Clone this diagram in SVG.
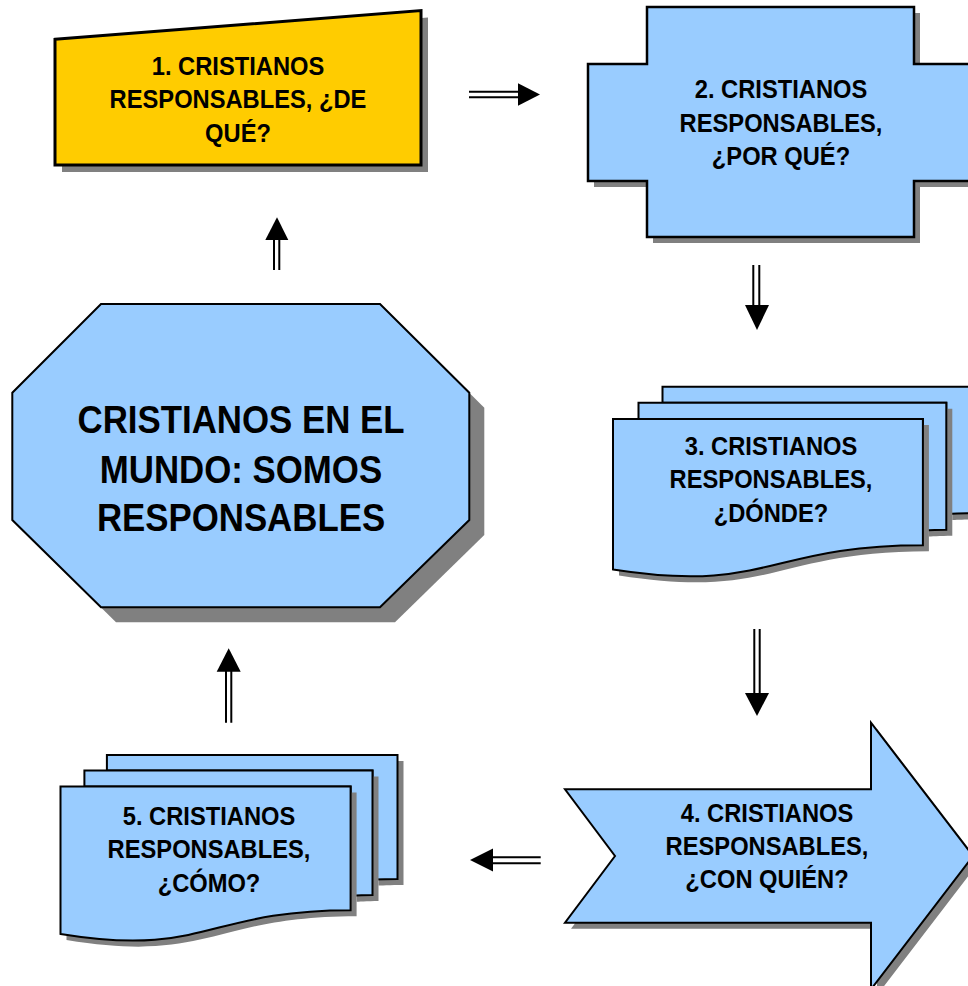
<svg xmlns="http://www.w3.org/2000/svg" xmlns:xlink="http://www.w3.org/1999/xlink" width="968" height="986" viewBox="0 0 968 986">
<style>
.sh{fill:#808080;stroke:none}
.y{fill:#FFCC00;stroke:#000;stroke-width:3;stroke-linejoin:miter}
.b{fill:#99CCFF;stroke:#000;stroke-width:2;stroke-linejoin:miter}
.t{font-family:"Liberation Sans",Arial,sans-serif;font-weight:bold;font-size:25.5px;text-anchor:middle;fill:#000}
.tb{font-family:"Liberation Sans",Arial,sans-serif;font-weight:bold;font-size:38.7px;text-anchor:middle;fill:#000}
.ln{fill:none;stroke:#000;stroke-width:2}
.hd{fill:#000;stroke:none}
</style>
<defs>
<path id="p1" d="M55,39.3 L421,10.5 L421,165 L55,165 Z"/>
<path id="p2" d="M647,7 H914 V64 H973 V181 H914 V237 H647 V181 H588 V64 H647 Z"/>
<path id="p3a" d="M662.5,402.7 V386.7 H973 V513.3 C959.7,513.3 946.3,514 946.3,514 V402.7 Z"/>
<path id="p3b" d="M638.5,419 V402.7 H946.3 V529.7 C934.6,529.7 922.9,530.5 922.9,530.5 V419 Z"/>
<path id="p3c" d="M613,419 H922.9 V545.2 C768,545.2 768,593.8 613,569.5 Z"/>
<path id="p4" d="M565,789.3 H871 V722.7 L973,856 L871,989.3 V922.7 H565 L615,856 Z"/>
<path id="p5a" d="M106.9,770.6 V755 H397.5 V878.9 C385,878.9 372.5,879.6 372.5,879.6 V770.6 Z"/>
<path id="p5b" d="M84.4,786.6 V770.6 H372.5 V894.9 C361.6,894.9 350.6,895.8 350.6,895.8 V786.6 Z"/>
<path id="p5c" d="M60.5,786.6 H350.6 V910.2 C205.6,910.2 205.6,957.7 60.5,934 Z"/>
<path id="p0" d="M101,304 H380 L469.3,392.7 V520 L380,607.3 H101 L12.3,520 V392.7 Z"/>
</defs>

<g id="connectors">
  <g id="c-center-1">
    <path class="ln" d="M274,270 V240 M279.3,270 V240"/>
    <polygon class="hd" points="265.3,240 288.3,240 277,217.3"/>
  </g>
  <g id="c-1-2">
    <path class="ln" d="M469,91.7 H519 M469,97.3 H519"/>
    <polygon class="hd" points="518,83.3 540,94.5 518,105.7"/>
  </g>
  <g id="c-2-3">
    <path class="ln" d="M753.3,265 V306 M759.3,265 V306"/>
    <polygon class="hd" points="745,305 769,305 757,330"/>
  </g>
  <g id="c-3-4">
    <path class="ln" d="M754.3,629 V694 M759.7,629 V694"/>
    <polygon class="hd" points="745,693 769,693 757,716"/>
  </g>
  <g id="c-4-5">
    <path class="ln" d="M540.7,857.3 H492 M540.7,863.3 H492"/>
    <polygon class="hd" points="493,848.5 470,860 493,871.5"/>
  </g>
  <g id="c-5-center">
    <path class="ln" d="M226,722.7 V671 M231.3,722.7 V671"/>
    <polygon class="hd" points="216.7,671.7 240.7,671.7 228.7,648.3"/>
  </g>
</g>

<g id="node-1">
  <use xlink:href="#p1" class="sh" transform="translate(7,7)"/>
  <use xlink:href="#p1" class="y"/>
  <text class="t" transform="translate(238,0) scale(0.93,1)"><tspan x="0" y="75">1. CRISTIANOS</tspan><tspan x="0" y="108.3">RESPONSABLES, ¿DE</tspan><tspan x="0" y="141.7">QUÉ?</tspan></text>
</g>

<g id="node-2">
  <use xlink:href="#p2" class="sh" transform="translate(6,6)"/>
  <use xlink:href="#p2" class="b" style="stroke-width:2.5"/>
  <text class="t" transform="translate(781,0) scale(0.93,1)"><tspan x="0" y="98.3">2. CRISTIANOS</tspan><tspan x="0" y="131.7">RESPONSABLES,</tspan><tspan x="0" y="165">¿POR QUÉ?</tspan></text>
</g>

<g id="node-3">
  <use xlink:href="#p3a" class="sh" transform="translate(6,6)"/>
  <use xlink:href="#p3a" class="b"/>
  <use xlink:href="#p3b" class="sh" transform="translate(6,6)"/>
  <use xlink:href="#p3b" class="b"/>
  <use xlink:href="#p3c" class="sh" transform="translate(6,6)"/>
  <use xlink:href="#p3c" class="b"/>
  <text class="t" transform="translate(771,0) scale(0.93,1)"><tspan x="0" y="455">3. CRISTIANOS</tspan><tspan x="0" y="488.3">RESPONSABLES,</tspan><tspan x="0" y="521.6">¿DÓNDE?</tspan></text>
</g>

<g id="node-4">
  <use xlink:href="#p4" class="sh" transform="translate(6,6)"/>
  <use xlink:href="#p4" class="b"/>
  <text class="t" transform="translate(767,0) scale(0.93,1)"><tspan x="0" y="821.7">4. CRISTIANOS</tspan><tspan x="0" y="855">RESPONSABLES,</tspan><tspan x="0" y="888.3">¿CON QUIÉN?</tspan></text>
</g>

<g id="node-5">
  <use xlink:href="#p5a" class="sh" transform="translate(6,6)"/>
  <use xlink:href="#p5a" class="b"/>
  <use xlink:href="#p5b" class="sh" transform="translate(6,6)"/>
  <use xlink:href="#p5b" class="b"/>
  <use xlink:href="#p5c" class="sh" transform="translate(6,6)"/>
  <use xlink:href="#p5c" class="b"/>
  <text class="t" transform="translate(209,0) scale(0.93,1)"><tspan x="0" y="825">5. CRISTIANOS</tspan><tspan x="0" y="858.3">RESPONSABLES,</tspan><tspan x="0" y="891.7">¿CÓMO?</tspan></text>
</g>

<g id="node-center">
  <use xlink:href="#p0" class="sh" transform="translate(15,15)"/>
  <use xlink:href="#p0" class="b"/>
  <text class="tb" transform="translate(241,0) scale(0.9,1)"><tspan x="0" y="432.7">CRISTIANOS EN EL</tspan><tspan x="0" y="482.7">MUNDO: SOMOS</tspan><tspan x="0" y="530.7">RESPONSABLES</tspan></text>
</g>
</svg>
